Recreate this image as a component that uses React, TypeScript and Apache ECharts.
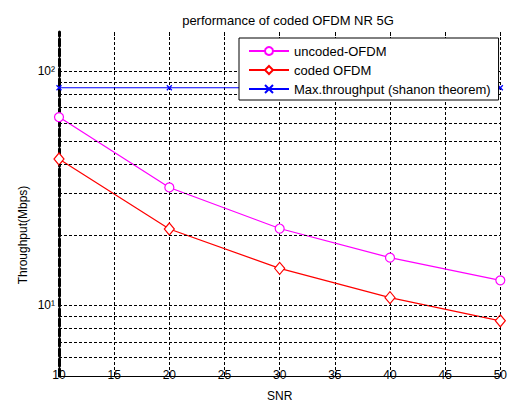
import React, { useEffect, useRef } from "react";
import * as echarts from "echarts";

const snr = [10, 20, 30, 40, 50];
const uncodedOFDM = [63.7, 31.9, 21.3, 16.0, 12.8];
const codedOFDM = [42.2, 21.2, 14.4, 10.8, 8.6];
const maxThroughput = [85, 85, 85, 85, 85];
const yGridValues = [6, 7, 8, 9, 10, 20, 30, 40, 50, 60, 70, 80, 90, 100];
const seriesNames = ["uncoded-OFDM", "coded OFDM", "Max.throughput (shanon theorem)"];
const titleText = "performance of coded OFDM NR 5G";
const xName = "SNR";
const yName = "Throughput(Mbps)";

const FONT = "Liberation Sans, Arial, sans-serif";
const dash = [3, 2];

export default function App() {
  const ref = useRef<HTMLDivElement>(null);
  useEffect(() => {
    document.body.style.margin = "0";
    if (!ref.current) return;
    const chart = echarts.init(ref.current, undefined, { renderer: "svg", width: 510, height: 407 });
    const pairs = (ys: number[]) => snr.map((x, i) => [x, ys[i]]);
    const yFmt = (v: number) => {
      const l = Math.round(Math.log10(v) * 1000) / 1000;
      if (l === 1) return "10¹";
      if (l === 2) return "10²";
      return "";
    };
    chart.setOption({
      animation: false,
      textStyle: { fontFamily: FONT },
      title: {
        text: titleText,
        left: 283,
        textAlign: "center",
        top: 9,
        textStyle: { fontSize: 13, fontWeight: "normal", color: "#000", fontFamily: FONT },
      },
      grid: { left: 59, right: 3, top: 32, bottom: 23, containLabel: false },
      legend: {
        data: seriesNames,
        orient: "vertical",
        left: 239,
        top: 38,
        padding: [6, 8, 4, 9],
        itemGap: 5,
        itemWidth: 40,
        itemHeight: 10,
        backgroundColor: "#fff",
        borderColor: "#000",
        borderWidth: 1,
        borderRadius: 0,
        textStyle: { fontSize: 13, color: "#000", fontFamily: FONT, lineHeight: 14 },
        z: 10,
      },
      xAxis: [
        {
          type: "value",
          min: 10,
          max: 50,
          interval: 5,
          name: xName,
          nameLocation: "middle",
          nameGap: 14,
          nameTextStyle: { fontSize: 12, color: "#000", fontFamily: FONT },
          axisLine: { show: true, lineStyle: { color: "#000", width: 1 } },
          axisTick: { show: true, inside: true, length: 4, lineStyle: { color: "#000" } },
          axisLabel: { fontSize: 12, color: "#000", margin: -1, verticalAlign: "middle", fontFamily: FONT },
          splitLine: { show: true, lineStyle: { color: "#000", type: dash, width: 1 } },
        },
        {
          type: "value",
          position: "top",
          min: 10,
          max: 50,
          interval: 5,
          axisLine: { show: false },
          axisTick: { show: true, inside: true, length: 4, lineStyle: { color: "#000" } },
          axisLabel: { show: false },
          splitLine: { show: false },
        },
      ],
      yAxis: [
        {
          type: "log",
          logBase: 10,
          min: 5,
          max: 147,
          axisLine: { show: true, lineStyle: { color: "#000", width: 1 } },
          axisTick: { show: false },
          axisLabel: { fontSize: 12, color: "#000", margin: 4, formatter: yFmt, fontFamily: FONT },
          splitLine: { show: false },
        },
        {
          type: "log",
          logBase: 10,
          min: 5,
          max: 147,
          position: "left",
          axisLine: { show: true, lineStyle: { color: "#000", width: 3, type: [7, 3] } },
          axisTick: { show: false },
          axisLabel: { show: false },
          splitLine: { show: false },
        },
      ],
      graphic: [
        {
          type: "text",
          x: 23,
          y: 235,
          rotation: Math.PI / 2,
          style: {
            text: yName,
            fontSize: 12,
            fill: "#000",
            align: "center",
            verticalAlign: "middle",
            fontFamily: FONT,
          },
        },
      ],
      series: [
        {
          type: "line",
          name: "grid",
          data: [],
          z: 1,
          silent: true,
          markLine: {
            silent: true,
            symbol: ["none", "none"],
            label: { show: false },
            lineStyle: { color: "#000", type: dash, width: 1 },
            emphasis: { disabled: true },
            data: yGridValues.map((v) => ({ yAxis: v })),
          },
        },
        {
          type: "line",
          name: seriesNames[0],
          data: pairs(uncodedOFDM),
          z: 3,
          symbol: "circle",
          symbolSize: 9,
          showAllSymbol: true,
          lineStyle: { color: "#ff00ff", width: 1.2 },
          itemStyle: { color: "#fff", borderColor: "#ff00ff", borderWidth: 1.2 },
          emphasis: { disabled: true },
        },
        {
          type: "line",
          name: seriesNames[1],
          data: pairs(codedOFDM),
          z: 3,
          symbol: "diamond",
          symbolSize: [10, 12],
          showAllSymbol: true,
          lineStyle: { color: "#ff0000", width: 1.2 },
          itemStyle: { color: "#fff", borderColor: "#ff0000", borderWidth: 1.2 },
          emphasis: { disabled: true },
        },
        {
          type: "line",
          name: seriesNames[2],
          data: pairs(maxThroughput),
          z: 3,
          symbol: "path://M0 0L10 10M10 0L0 10",
          symbolSize: 5,
          showAllSymbol: true,
          lineStyle: { color: "#0000ff", width: 1.2 },
          itemStyle: { color: "#0000ff", borderColor: "#0000ff", borderWidth: 1.3 },
          emphasis: { disabled: true },
        },
      ],
    });
    return () => chart.dispose();
  }, []);
  return (
    <div
      ref={ref}
      style={{ position: "fixed", left: 0, top: 0, width: 510, height: 407, background: "#fff" }}
    />
  );
}
